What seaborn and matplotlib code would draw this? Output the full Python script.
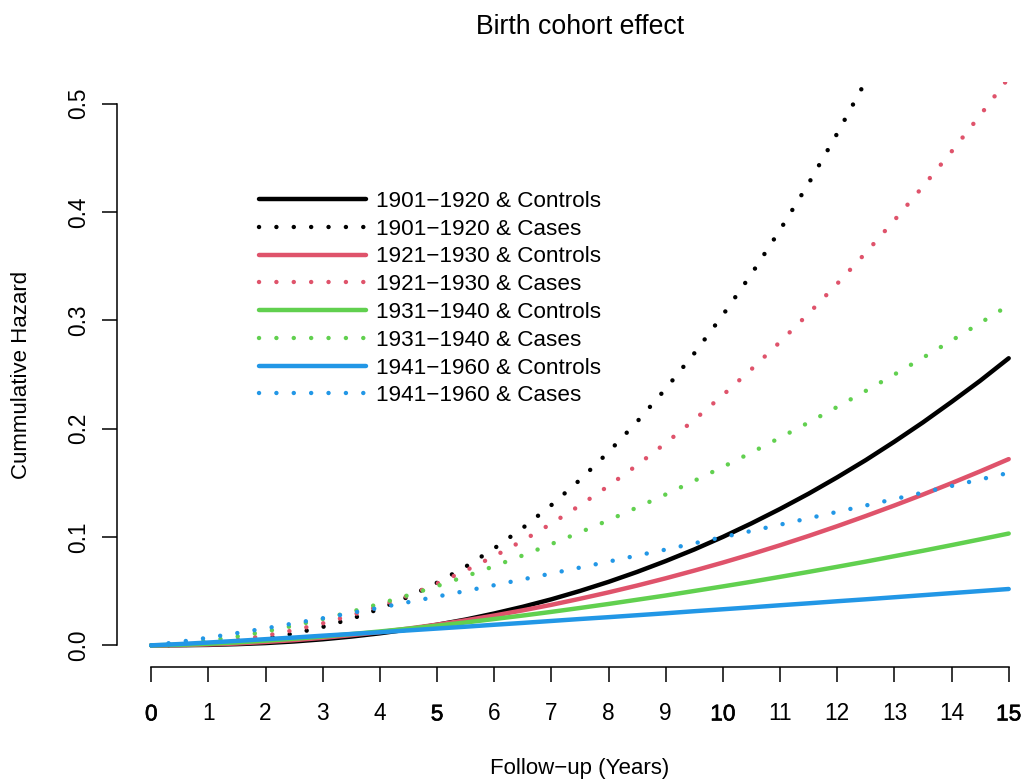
import matplotlib
matplotlib.use("Agg")
import matplotlib.pyplot as plt
import matplotlib.patheffects as pe
import seaborn as sns
import pandas as pd

# Follow-up time (years), half-year steps
years = [0, 0.5, 1, 1.5, 2, 2.5, 3, 3.5, 4, 4.5, 5, 5.5, 6, 6.5, 7, 7.5,
         8, 8.5, 9, 9.5, 10, 10.5, 11, 11.5, 12, 12.5, 13, 13.5, 14, 14.5, 15]

# Cumulative hazard by birth cohort and case/control status
controls_1901_1920 = [0, 0.0001, 0.0004, 0.0011, 0.0021, 0.0036, 0.0056, 0.0081, 0.0111,
                      0.0147, 0.0190, 0.0238, 0.0294, 0.0356, 0.0425, 0.0502, 0.0586,
                      0.0678, 0.0778, 0.0885, 0.1001, 0.1126, 0.1259, 0.1400, 0.1551,
                      0.1710, 0.1880, 0.2058, 0.2247, 0.2442, 0.2650]
cases_1901_1920 = [0, 0.0002, 0.0012, 0.0032, 0.0064, 0.0109, 0.0170, 0.0245, 0.0338,
                   0.0449, 0.0578, 0.0726, 0.0895, 0.1084, 0.1295, 0.1528, 0.1785,
                   0.2065, 0.2369, 0.2696, 0.3050, 0.3428, 0.3835, 0.4264, 0.4725,
                   0.5209, 0.5725, 0.6267, 0.6842, 0.7437, 0.8072]
controls_1921_1930 = [0, 0.0002, 0.0008, 0.0017, 0.0031, 0.0048, 0.0069, 0.0094, 0.0122,
                      0.0155, 0.0191, 0.0231, 0.0275, 0.0323, 0.0374, 0.0430, 0.0489,
                      0.0552, 0.0619, 0.0690, 0.0764, 0.0842, 0.0924, 0.1010, 0.1100,
                      0.1194, 0.1291, 0.1392, 0.1497, 0.1606, 0.1719]
cases_1921_1930 = [0, 0.0005, 0.0022, 0.0050, 0.0089, 0.0140, 0.0203, 0.0277, 0.0363,
                   0.0460, 0.0570, 0.0690, 0.0823, 0.0967, 0.1124, 0.1292, 0.1472,
                   0.1664, 0.1867, 0.2082, 0.2310, 0.2549, 0.2801, 0.3063, 0.3338,
                   0.3624, 0.3924, 0.4236, 0.4558, 0.4893, 0.5239]
controls_1931_1940 = [0, 0.0005, 0.0014, 0.0027, 0.0043, 0.0061, 0.0081, 0.0104, 0.0128,
                      0.0154, 0.0182, 0.0211, 0.0243, 0.0275, 0.0309, 0.0345, 0.0382,
                      0.0421, 0.0460, 0.0502, 0.0544, 0.0587, 0.0632, 0.0678, 0.0725,
                      0.0773, 0.0823, 0.0873, 0.0925, 0.0978, 0.1032]
cases_1931_1940 = [0, 0.0014, 0.0042, 0.0081, 0.0127, 0.0182, 0.0243, 0.0310, 0.0384,
                   0.0463, 0.0547, 0.0637, 0.0731, 0.0830, 0.0935, 0.1043, 0.1155,
                   0.1273, 0.1393, 0.1519, 0.1647, 0.1780, 0.1917, 0.2057, 0.2201,
                   0.2349, 0.2500, 0.2655, 0.2813, 0.2975, 0.3139]
controls_1941_1960 = [0, 0.0012, 0.0026, 0.0041, 0.0057, 0.0072, 0.0089, 0.0105, 0.0121,
                      0.0138, 0.0155, 0.0172, 0.0190, 0.0207, 0.0225, 0.0243, 0.0260,
                      0.0278, 0.0296, 0.0315, 0.0333, 0.0351, 0.0370, 0.0388, 0.0407,
                      0.0425, 0.0444, 0.0463, 0.0482, 0.0501, 0.0520]
cases_1941_1960 = [0, 0.0032, 0.0071, 0.0113, 0.0157, 0.0203, 0.0250, 0.0299, 0.0348,
                   0.0399, 0.0450, 0.0502, 0.0555, 0.0609, 0.0663, 0.0718, 0.0773,
                   0.0829, 0.0884, 0.0942, 0.0999, 0.1056, 0.1114, 0.1173, 0.1232,
                   0.1291, 0.1350, 0.1410, 0.1471, 0.1531, 0.1592]

series_labels = ["1901\u22121920 & Controls", "1901\u22121920 & Cases",
                 "1921\u22121930 & Controls", "1921\u22121930 & Cases",
                 "1931\u22121940 & Controls", "1931\u22121940 & Cases",
                 "1941\u22121960 & Controls", "1941\u22121960 & Cases"]
series_values = [controls_1901_1920, cases_1901_1920,
                 controls_1921_1930, cases_1921_1930,
                 controls_1931_1940, cases_1931_1940,
                 controls_1941_1960, cases_1941_1960]
cohort_colors = ["#000000", "#DF536B", "#61D04F", "#2297E6"]

x_ticks = list(range(16))
y_ticks = [0.0, 0.1, 0.2, 0.3, 0.4, 0.5]

sns.set_style("white")
plt.rcParams["font.family"] = ["Liberation Sans", "DejaVu Sans"]
plt.rcParams["text.color"] = "black"
plt.rcParams["axes.labelcolor"] = "black"
plt.rcParams["xtick.color"] = "black"
plt.rcParams["ytick.color"] = "black"

W, H = 1027, 782
fig = plt.figure(figsize=(W / 100, H / 100), dpi=100)
# plot region spans 117..1043 px horizontally and 82..667 px vertically
ax = fig.add_axes([117 / W, 1 - 667 / H, 926 / W, 585 / H])

LW = 3.2
for i, (label, vals) in enumerate(zip(series_labels, series_values)):
    color = cohort_colors[i // 2]
    df = pd.DataFrame({"year": years, "hazard": vals})
    if i % 2 == 0:
        sns.lineplot(data=df, x="year", y="hazard", ax=ax, color=color, lw=LW,
                     solid_capstyle="round", label=label, legend=False)
    else:
        sns.lineplot(data=df, x="year", y="hazard", ax=ax, color=color, lw=LW,
                     linestyle=(0, (0.01, 3.9)), dash_capstyle="round",
                     label=label, legend=False)

ax.set_xlim(-0.6, 15.6)
ax.set_ylim(-0.02, 0.52)

for side in ["top", "right"]:
    ax.spines[side].set_visible(False)
for side in ["bottom", "left"]:
    ax.spines[side].set_linewidth(1.1)
    ax.spines[side].set_color("black")
ax.spines["bottom"].set_bounds(0, 15)
ax.spines["left"].set_bounds(0, 0.5)

ax.set_xticks(x_ticks)
ax.set_xticklabels([str(t) for t in x_ticks])
ax.set_yticks(y_ticks)
ax.set_yticklabels([f"{v:.1f}" for v in y_ticks])
ax.tick_params(axis="both", which="major", direction="out", length=10.5, width=1.1,
               color="black", labelsize=16.3, labelcolor="black",
               bottom=True, left=True, top=False, right=False)
ax.tick_params(axis="x", pad=15)
ax.tick_params(axis="y", pad=9)
for lab in ax.get_yticklabels():
    lab.set_rotation(90)
    lab.set_va("center")
# the 0, 5, 10 and 15 labels are heavier
for lab, t in zip(ax.get_xticklabels(), x_ticks):
    if t % 5 == 0:
        lab.set_path_effects([pe.withStroke(linewidth=0.45, foreground="black")])

ax.set_xlabel("Follow\u2212up (Years)", fontsize=16)
ax.xaxis.set_label_coords(0.5, -0.173)
ax.xaxis.label.set_va("center")
ax.set_ylabel("Cummulative Hazard", fontsize=16)
ax.yaxis.set_label_coords(-0.1026, 0.5)
ax.yaxis.label.set_va("center")

ax.set_title("Birth cohort effect", fontsize=19.2, y=(667 - 27) / 585, pad=0,
             va="center")

handles = ax.get_lines()[:8]
ax.legend(handles=handles, labels=series_labels, loc="upper left",
          bbox_to_anchor=(259 / W, 1 - 191 / H), bbox_transform=fig.transFigure,
          frameon=False, fontsize=16.2, handlelength=4.75, handletextpad=0.45,
          labelspacing=0.3, borderpad=0, borderaxespad=0)

fig.savefig("out.png", dpi=100)
